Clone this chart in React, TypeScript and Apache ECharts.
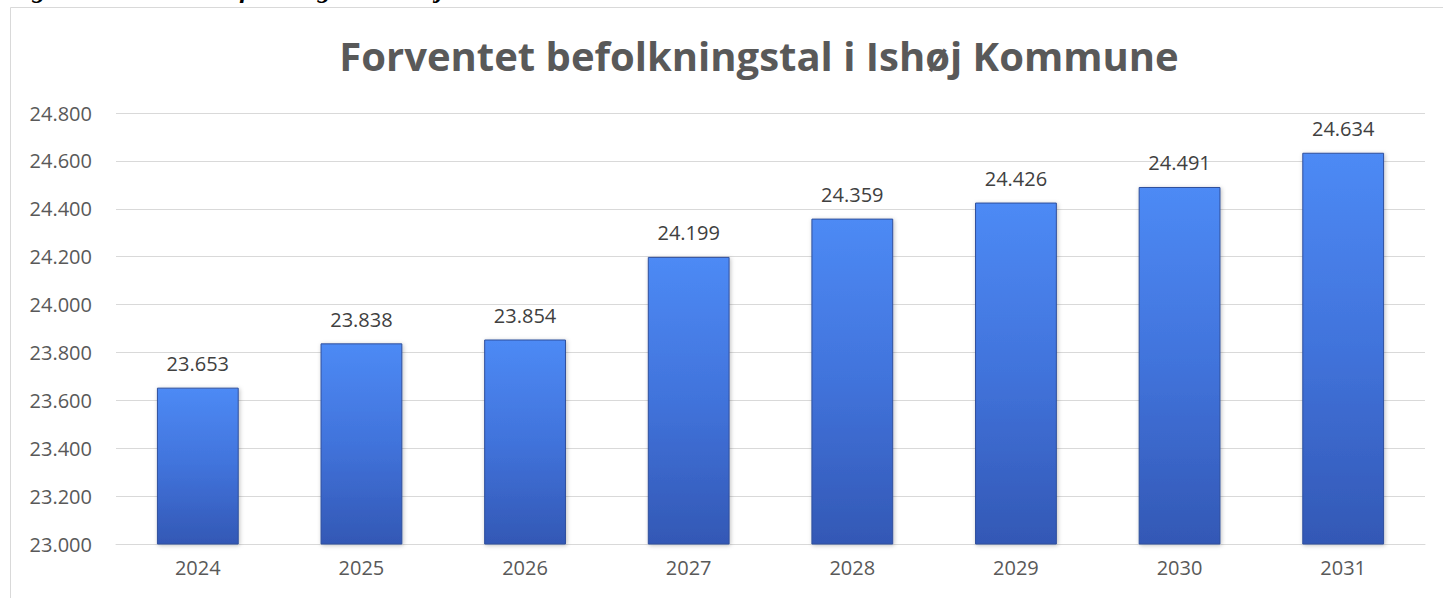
import React, { useEffect, useRef } from "react";
import * as echarts from "echarts";

const categories = ["2024", "2025", "2026", "2027", "2028", "2029", "2030", "2031"];
const population = [23653, 23838, 23854, 24199, 24359, 24426, 24491, 24634];
const chartTitle = "Forventet befolkningstal i Ishøj Kommune";
const captionText = "Figur 1: Forventet befolkningstal i Ishøj Kommune";

const fmt = (v: number) => {
  const s = Math.round(v).toString();
  return s.replace(/\B(?=(\d{3})+(?!\d))/g, ".");
};

export default function App() {
  const ref = useRef<HTMLDivElement>(null);
  useEffect(() => {
    if (!ref.current) return;
    const chart = echarts.init(ref.current, null, { renderer: "svg" });
    const font = "'Open Sans', sans-serif";
    chart.setOption({
      animation: false,
      backgroundColor: "#ffffff",
      title: {
        text: chartTitle,
        left: 754,
        top: 30,
        textAlign: "center",
        textStyle: { fontFamily: font, fontWeight: "bold", fontSize: 40, color: "#595959" },
      },
      graphic: [
        {
          type: "rect",
          shape: { x: 10.5, y: 7.5, width: 1500, height: 700 },
          style: { fill: "none", stroke: "#d9d9d9", lineWidth: 1 },
          silent: true,
        },
        {
          type: "text",
          x: 8,
          y: 2,
          style: {
            text: captionText,
            font: "italic bold 26px 'Liberation Serif', serif",
            fill: "#000000",
            verticalAlign: "bottom",
          },
          silent: true,
        },
      ],
      grid: { left: 116, right: 18, top: 113, bottom: 54, containLabel: false },
      xAxis: {
        type: "category",
        data: categories,
        axisLine: { show: true, lineStyle: { color: "#d9d9d9", width: 1 } },
        axisTick: { show: false },
        axisLabel: { fontFamily: font, fontSize: 20, color: "#595959", margin: 13 },
      },
      yAxis: {
        type: "value",
        min: 23000,
        max: 24800,
        interval: 200,
        axisLine: { show: false },
        axisTick: { show: false },
        splitLine: { lineStyle: { color: "#d9d9d9", width: 1 } },
        axisLabel: {
          fontFamily: font,
          fontSize: 20,
          color: "#595959",
          margin: 24,
          formatter: (v: number) => fmt(v),
        },
      },
      series: [
        {
          type: "bar",
          data: population,
          barWidth: "50%",
          itemStyle: {
            color: new echarts.graphic.LinearGradient(0, 0, 0, 1, [
              { offset: 0, color: "#4d8af5" },
              { offset: 0.5, color: "#4173db" },
              { offset: 1, color: "#3358b5" },
            ]),
            borderColor: "#2f4f9c",
            borderWidth: 1,
            shadowColor: "rgba(0,0,0,0.25)",
            shadowBlur: 4,
            shadowOffsetX: 1,
            shadowOffsetY: 1,
          },
          label: {
            show: true,
            position: "top",
            distance: 14,
            fontFamily: font,
            fontSize: 20,
            color: "#404040",
            formatter: (p: any) => fmt(p.value),
          },
        },
      ],
    });
    return () => chart.dispose();
  }, []);
  return (
    <div
      ref={ref}
      style={{ position: "fixed", left: 0, top: 0, width: 1443, height: 598, background: "#fff" }}
    />
  );
}
